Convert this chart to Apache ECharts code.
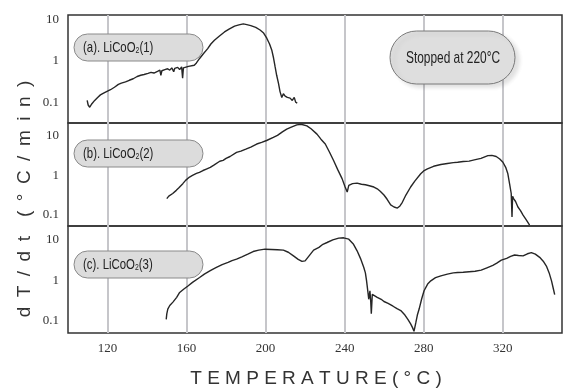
<!DOCTYPE html>
<html>
<head>
<meta charset="utf-8">
<script src="https://cdn.jsdelivr.net/npm/echarts@6/dist/echarts.min.js"></script>
<style>
html,body{margin:0;padding:0;background:#fff;}
#chart{width:566px;height:390px;}
</style>
</head>
<body>
<div id="chart"></div>
<script>
// ---- data ----
const xTickLabels = [120, 160, 200, 240, 280, 320];
const yTickLabels = ['0.1', '1', '10'];
const panelNames = ['(a). LiCoO', '(b). LiCoO', '(c). LiCoO'];
const panelSuffix = ['(1)', '(2)', '(3)'];
const noteText = 'Stopped at 220°C';

const tempA = [109.7,110.2,111.0,112.0,113.5,115.0,116.4,118.0,119.5,121.5,123.5,125.5,127.0,129.1,131.0,133.0,135.0,136.8,138.5,140.5,142.0,143.5,145.3,146.5,147.0,147.5,149.0,150.4,151.5,152.5,153.5,154.0,155.5,156.5,157.5,158.0,158.4,159.0,161.0,163.9,165.0,166.5,168.5,170.7,172.3,174.1,176.5,179.2,181.5,184.3,186.5,188.7,190.5,192.5,195.0,197.2,199.0,200.6,202.0,203.1,204.0,204.8,205.6,206.5,207.3,208.2,209.0,209.9,211.0,212.4,213.5,214.5,215.2,216.0];
const rateA = [0.11,0.085,0.075,0.09,0.11,0.13,0.15,0.165,0.18,0.20,0.23,0.27,0.29,0.31,0.34,0.37,0.42,0.45,0.47,0.50,0.53,0.51,0.56,0.60,0.45,0.58,0.62,0.65,0.60,0.68,0.55,0.66,0.70,0.62,0.72,0.38,0.68,0.71,0.74,0.79,0.90,1.14,1.5,2.0,2.6,3.2,4.0,5.1,6.0,7.1,7.6,8.0,7.7,7.3,6.6,5.7,4.8,3.6,2.6,1.86,1.2,0.73,0.45,0.29,0.18,0.13,0.16,0.14,0.13,0.125,0.11,0.13,0.10,0.095];

const tempB = [150.0,151.0,152.0,153.0,154.8,156.0,158.1,159.5,161.5,163.0,165.0,166.5,168.3,170.0,172.0,174.0,176.8,178.5,180.0,182.0,183.0,185.3,187.5,190.0,192.5,195.5,198.0,200.5,203.9,206.0,208.5,210.7,213.0,215.8,218.0,220.9,223.0,226.0,228.0,230.2,232.3,234.4,236.5,238.7,240.2,241.3,242.1,244.0,246.3,248.5,250.5,252.5,254.8,256.5,258.0,259.9,261.5,263.3,265.0,266.7,268.0,269.2,271.0,273.4,275.5,278.5,280.0,281.9,285.0,288.7,292.0,295.0,297.2,300.0,303.0,305.6,309.0,312.5,314.5,316.7,318.5,320.1,321.5,322.6,323.5,324.3,324.7,325.0,325.5,326.5,327.7,329.0,330.3,332.0,333.6];
const rateB = [0.26,0.30,0.29,0.35,0.42,0.48,0.62,0.75,0.91,1.0,1.12,1.2,1.33,1.45,1.6,1.85,2.28,2.4,2.7,3.0,2.8,3.8,4.1,4.6,5.2,6.2,6.8,7.6,9.1,10.2,12.5,14.7,16.5,18.8,19.5,17.8,15.0,11.0,8.2,6.2,3.9,2.37,1.4,0.83,0.52,0.38,0.56,0.62,0.64,0.60,0.58,0.55,0.51,0.46,0.40,0.32,0.25,0.18,0.16,0.15,0.17,0.21,0.32,0.51,0.72,1.1,1.3,1.47,1.7,1.88,2.0,2.1,2.15,2.25,2.3,2.47,2.7,3.16,3.2,3.0,2.6,2.15,1.6,1.1,0.6,0.35,0.09,0.30,0.26,0.22,0.16,0.13,0.10,0.075,0.056];

const tempC = [149.7,150.0,150.5,151.5,153.1,155.0,156.5,158.5,160.7,163.0,166.6,169.0,172.0,175.1,178.0,181.0,183.0,185.3,188.0,191.0,193.7,196.5,199.7,203.0,206.0,209.0,211.5,214.1,216.5,218.4,220.0,220.9,222.5,224.3,227.0,229.0,231.1,234.0,237.0,239.5,242.1,244.5,246.3,248.0,249.7,250.5,251.1,251.8,252.2,252.8,253.2,253.5,254.0,254.8,256.5,258.5,259.9,262.0,264.5,266.5,268.4,270.5,272.0,273.4,274.3,275.1,276.0,276.8,277.7,279.0,280.2,282.0,283.6,286.0,288.7,292.0,295.0,297.2,300.0,303.0,306.0,309.1,312.0,315.0,317.0,319.3,322.0,324.0,326.0,328.0,330.3,332.5,334.5,336.5,338.7,340.5,342.1,343.5,344.7,345.5,346.3];
const rateC = [0.11,0.15,0.195,0.24,0.29,0.38,0.50,0.60,0.72,0.88,1.16,1.4,1.7,2.04,2.4,2.7,3.0,3.25,3.7,4.3,5.0,5.4,5.7,5.6,5.5,5.4,4.8,3.9,3.2,2.86,2.95,3.25,4.2,5.4,6.3,7.5,8.3,9.6,10.6,10.8,10.0,7.5,5.2,3.4,2.04,1.5,0.96,0.5,0.34,0.55,0.3,0.15,0.45,0.41,0.38,0.34,0.30,0.27,0.23,0.20,0.18,0.14,0.11,0.085,0.07,0.056,0.09,0.14,0.196,0.35,0.55,0.8,0.96,1.15,1.27,1.4,1.5,1.54,1.55,1.6,1.65,1.75,2.0,2.3,2.6,3.07,3.4,3.8,4.1,4.0,3.9,4.4,4.7,4.3,3.6,2.9,2.2,1.5,0.96,0.65,0.44];

const temps = [tempA, tempB, tempC];
const rates = [rateA, rateB, rateC];

// ---- layout ----
const grids = [
  {top: 15, height: 108},
  {top: 123, height: 103},
  {top: 226, height: 107}
];
const yRanges = [[0.031, 13.2], [0.053, 21], [0.051, 21]];
const pillTops = [34, 140, 251];

const chart = echarts.init(document.getElementById('chart'), null, {renderer: 'canvas'});

function yLabelFmt(v) {
  const l = Math.log10(v);
  const r = Math.round(l);
  if (Math.abs(l - r) > 0.01) return '';
  const s = yTickLabels[r + 1];
  return s === undefined ? '' : s;
}

const pillGraphics = [];
pillTops.forEach((top, i) => {
  pillGraphics.push({
    type: 'rect', z: 10, shape: {x: 74, y: top, width: 129, height: 27, r: 13.5},
    style: {fill: '#dcdcdc', stroke: '#8a8a8a', lineWidth: 1}
  });
  pillGraphics.push({
    type: 'text', z: 11, x: 83, y: top + 14, scaleX: 0.76, scaleY: 1,
    style: {
      text: panelNames[i] + '{s|2}' + panelSuffix[i],
      font: '15px "Liberation Sans"', fill: '#222',
      textAlign: 'left', textVerticalAlign: 'middle',
      rich: {s: {fontSize: 9, fontFamily: 'Liberation Sans', fill: '#222', verticalAlign: 'bottom', lineHeight: 8, padding: [8, 0, 0, 0]}}
    }
  });
});

const option = {
  animation: false,
  backgroundColor: '#fff',
  grid: grids.map(g => ({
    left: 68, right: 4, top: g.top, height: g.height,
    show: true, borderColor: '#333', borderWidth: 1.5, backgroundColor: 'transparent'
  })),
  xAxis: grids.map((g, i) => ({
    type: 'value', gridIndex: i, min: 100, max: 350, interval: 20,
    axisLine: {show: false},
    axisTick: {show: false},
    axisLabel: {
      show: i === 2, margin: 9, color: '#333',
      fontFamily: 'Liberation Serif', fontSize: 13,
      formatter: v => (xTickLabels.indexOf(v) >= 0 ? String(v) : '')
    },
    splitLine: {
      show: true, showMinLine: true, showMaxLine: false,
      lineStyle: {color: ['rgba(0,0,0,0)', '#c6c6ca'], width: 2}
    }
  })),
  yAxis: grids.map((g, i) => ({
    type: 'log', logBase: 10, gridIndex: i,
    min: yRanges[i][0], max: yRanges[i][1],
    axisLine: {show: false},
    axisTick: {show: false},
    splitLine: {show: false},
    axisLabel: {
      margin: 9, color: '#333', fontFamily: 'Liberation Serif', fontSize: 13,
      formatter: yLabelFmt, showMinLabel: true, showMaxLabel: true
    }
  })),
  series: temps.map((t, i) => ({
    type: 'line', xAxisIndex: i, yAxisIndex: i,
    showSymbol: false, symbol: 'none',
    lineStyle: {color: '#262626', width: 1.4},
    data: t.map((x, k) => [x, rates[i][k]]),
    z: 5
  })),
  graphic: [
    ...pillGraphics,
    {type: 'rect', z: 10, shape: {x: 390, y: 31, width: 125, height: 53, r: 26.5},
     style: {fill: '#dedede', stroke: '#7a7a7a', lineWidth: 1,
             shadowColor: 'rgba(0,0,0,0.12)', shadowBlur: 4, shadowOffsetX: 4, shadowOffsetY: 3}},
    {type: 'text', z: 11, x: 453, y: 58, scaleX: 0.7,
     style: {text: noteText, font: '17px "Liberation Sans"', fill: '#222',
             textAlign: 'center', textVerticalAlign: 'middle'}},
    {type: 'text', z: 11, x: 25, y: 199, rotation: Math.PI / 2,
     style: {text: 'd\u2002T\u2002/\u2002d\u2002t\u2002\u2002(\u2002°\u2002C\u2002/\u2002m\u2002i\u2002n\u2002)',
             font: '19px "Liberation Sans"', fill: '#333',
             textAlign: 'center', textVerticalAlign: 'middle'}},
    {type: 'text', z: 11, x: 316, y: 379,
     style: {text: 'T E M P E R A T U R E ( ° C )',
             font: '19px "Liberation Sans"', fill: '#333',
             textAlign: 'center', textVerticalAlign: 'middle'}}
  ]
};
chart.setOption(option);
</script>
</body>
</html>
